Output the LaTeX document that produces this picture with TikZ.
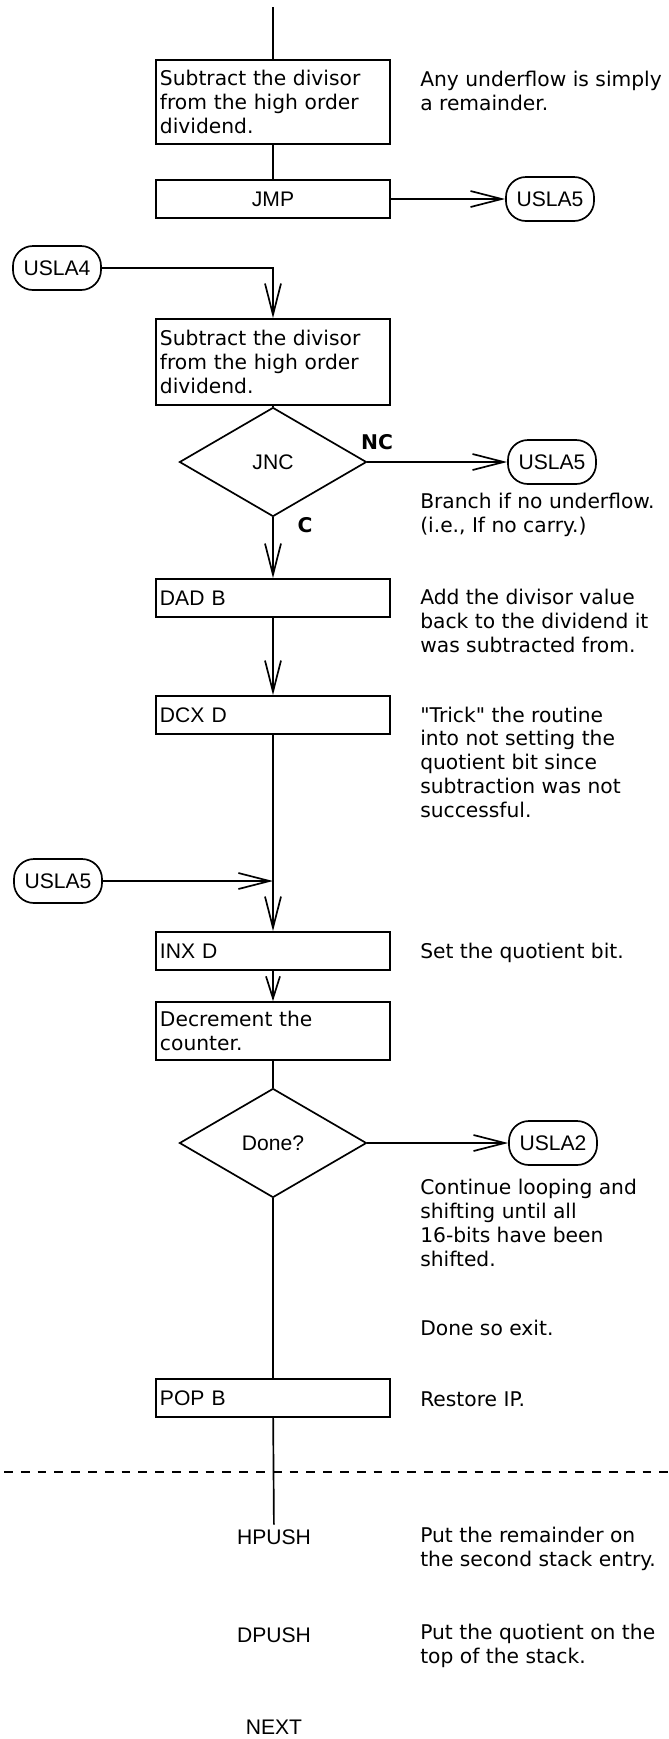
\documentclass[tikz,border=0pt]{standalone}
\usepackage{fontspec}
\setmainfont{Liberation Sans}
\newfontfamily\notefont{DejaVu Sans}
\usepackage{tikz}
\usetikzlibrary{arrows.meta,positioning,shapes.geometric}
\newcommand{\notetext}{\notefont\fontsize{14.4}{16.9}\selectfont}
\newcommand{\labeltext}{\fontsize{15}{17}\selectfont}

\begin{document}
\begin{tikzpicture}[
  x=0.025cm, y=-0.025cm,
  op/.style={rectangle, draw, line width=1.2pt, minimum width=5.85cm, minimum height=0.95cm,
             text width=5.65cm, inner xsep=0.1cm, align=left, font=\labeltext},
  term/.style={rectangle, draw, line width=1.2pt, rounded corners=0.5cm,
               minimum width=2.2cm, minimum height=1.1cm, inner sep=1pt, font=\labeltext},
  decision/.style={diamond, draw, line width=1.2pt, minimum width=4.675cm,
                   minimum height=2.725cm, inner sep=0pt, font=\labeltext},
  note/.style={anchor=west, inner sep=0pt, align=left, font=\notetext},
  flag/.style={font=\notetext\bfseries},
  line/.style={line width=1.2pt},
  >={Straight Barb[length=0.78cm,width=0.4cm]}
]
\useasboundingbox (0,0) rectangle (669,1739);

% Subtract and jump
\coordinate (start) at (273,7);
\node[op, minimum height=2.1cm, font=\notetext] (sub1) at (273,102)
  {Subtract the divisor\\from the high order\\dividend.};
\node[note] (sub1note) at (420,91) {Any underflow is simply\\a remainder.};
\node[op, align=center] (jmp) at (273,199) {JMP};
\node[term] (jmpout) at (550,199) {USLA5};

% USLA4 entry
\node[term] (usla4) at (57,268) {USLA4};
\node[op, minimum height=2.15cm, font=\notetext] (sub2) at (273,362)
  {Subtract the divisor\\from the high order\\dividend.};
\node[decision] (jnc) at (273,462) {JNC};
\node[flag] (nc) at (377,442) {NC};
\node[flag] (cy) at (305,525) {C};
\node[term] (jncout) at (552,462) {USLA5};
\node[note] (jncnote) at (420,515) {Branch if no underflow.\\(i.e., If no carry.)};

% Restore
\node[op] (dad) at (273,598) {DAD B};
\node[note] (dadnote) at (420,621)
  {Add the divisor value\\back to the dividend it\\was subtracted from.};
\node[op] (dcx) at (273,715) {DCX D};
\node[note] (dcxnote) at (420,762)
  {"Trick" the routine\\into not setting the\\quotient bit since\\subtraction was not\\successful.};

% USLA5 entry
\node[term] (usla5) at (58,881) {USLA5};
\node[op] (inx) at (273,951) {INX D};
\node[note] (inxnote) at (420,953) {Set the quotient bit.};
\node[op, minimum height=1.45cm, font=\notetext] (dec) at (273,1031)
  {Decrement the\\counter.};
\node[decision] (done) at (273,1143) {Done?};
\node[term] (doneout) at (553,1143) {USLA2};
\node[note] (donenote) at (420,1223)
  {Continue looping and\\shifting until all\\16-bits have been\\shifted.};
\node[note] (exitnote) at (420,1328) {Done so exit.};
\node[op] (pop) at (273,1398) {POP B};
\node[note] (popnote) at (420,1399) {Restore IP.};

% Exit
\node[font=\labeltext] (hpush) at (274,1537) {HPUSH};
\node[note] (hpushnote) at (420,1549) {Put the remainder on\\the second stack entry.};
\node[font=\labeltext] (dpush) at (274,1635) {DPUSH};
\node[note] (dpushnote) at (420,1646) {Put the quotient on the\\top of the stack.};
\node[font=\labeltext] (next) at (274,1727) {NEXT};

% Flow
\draw[line] (start) -- (sub1);
\draw[line] (sub1) -- (jmp);
\draw[line,->] (jmp) -- (jmpout);
\draw[line,->] (usla4) -| (sub2);
\draw[line] (sub2) -- (jnc);
\draw[line,->] (jnc) -- (jncout);
\draw[line,->] (jnc) -- (dad);
\draw[line,->] (dad) -- (dcx);
\draw[line,->] (dcx) -- (inx);
\draw[line,->] (usla5) -- (usla5 -| inx);
\draw[line,-{Straight Barb[length=0.55cm,width=0.35cm]}] (inx) -- (dec);
\draw[line] (dec) -- (done);
\draw[line,->] (done) -- (doneout);
\draw[line] (done) -- (pop);
\draw[line] (pop) -- (hpush);

% Separator
\draw[line, dash pattern=on 0.22cm off 0.2cm] (4,1472) -- (669,1472);
\end{tikzpicture}
\end{document}
